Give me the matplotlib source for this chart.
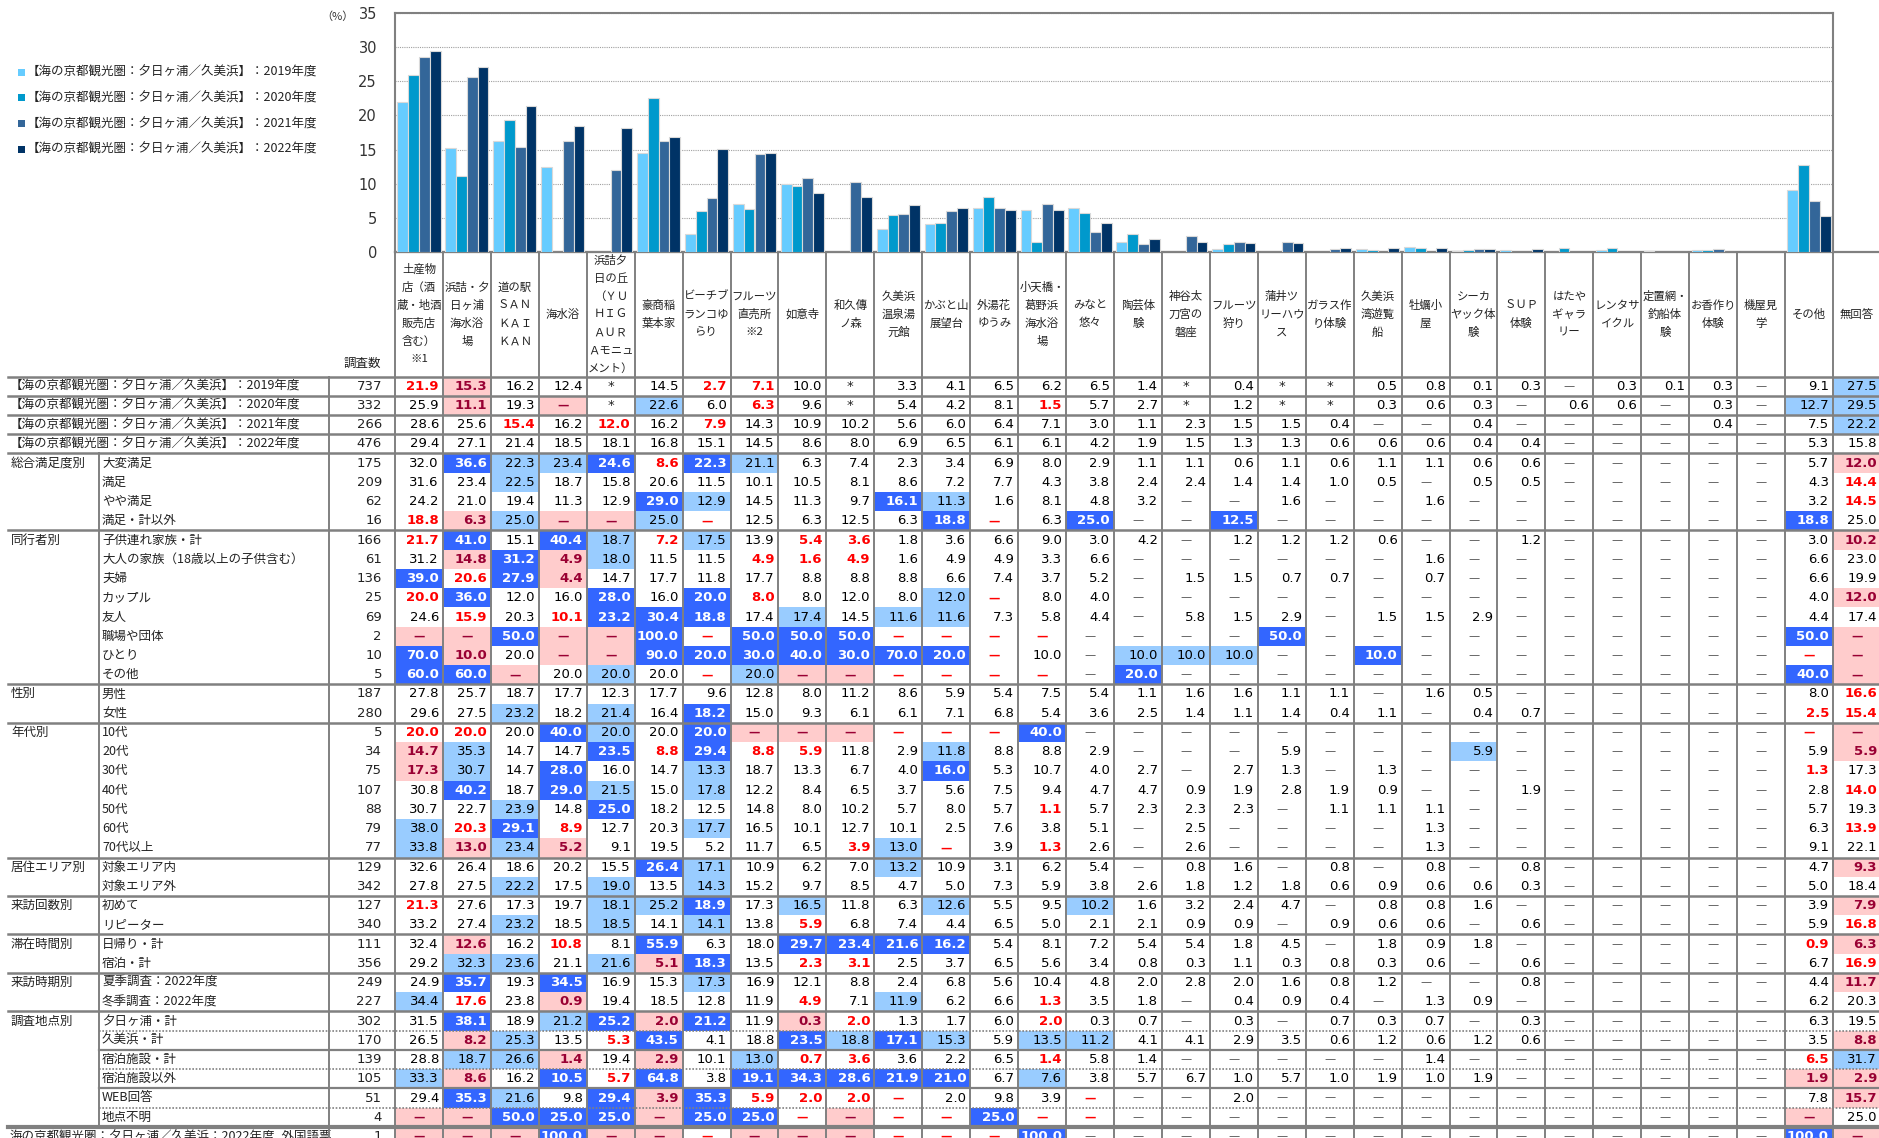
import matplotlib
matplotlib.use("Agg")
import matplotlib.pyplot as plt
from matplotlib.patches import Rectangle
import numpy as np

plt.rcParams["font.family"] = ["Noto Sans CJK JP", "DejaVu Sans"]

# ---- data ---------------------------------------------------------------
CATEGORIES = [
    "土産物\n店（酒\n蔵・地酒\n販売店\n含む）\n※1",
    "浜詰・夕\n日ヶ浦\n海水浴\n場",
    "道の駅\nＳＡＮ\nＫＡＩ\nＫＡＮ",
    "海水浴",
    "浜詰夕\n日の丘\n（ＹＵ\nＨＩＧ\nＡＵＲ\nＡモニュ\nメント）",
    "豪商稲\n葉本家",
    "ビーチブ\nランコゆ\nらり",
    "フルーツ\n直売所\n※2",
    "如意寺",
    "和久傳\nノ森",
    "久美浜\n温泉湯\n元館",
    "かぶと山\n展望台",
    "外湯花\nゆうみ",
    "小天橋・\n葛野浜\n海水浴\n場",
    "みなと\n悠々",
    "陶芸体\n験",
    "神谷太\n刀宮の\n磐座",
    "フルーツ\n狩り",
    "蒲井ツ\nリーハウ\nス",
    "ガラス作\nり体験",
    "久美浜\n湾遊覧\n船",
    "牡蠣小\n屋",
    "シーカ\nヤック体\n験",
    "ＳＵＰ\n体験",
    "はたや\nギャラ\nリー",
    "レンタサ\nイクル",
    "定置網・\n釣船体\n験",
    "お香作り\n体験",
    "機屋見\n学",
    "その他",
    "無回答",
]

SERIES = [
    "【海の京都観光圏：夕日ヶ浦／久美浜】：2019年度",
    "【海の京都観光圏：夕日ヶ浦／久美浜】：2020年度",
    "【海の京都観光圏：夕日ヶ浦／久美浜】：2021年度",
    "【海の京都観光圏：夕日ヶ浦／久美浜】：2022年度",
]

ROW_GROUP = ["", "", "", "",
             "総合満足度別", "", "", "",
             "同行者別", "", "", "", "", "", "", "",
             "性別", "",
             "年代別", "", "", "", "", "", "",
             "居住エリア別", "",
             "来訪回数別", "",
             "滞在時間別", "",
             "来訪時期別", "",
             "調査地点別", "", "", "", "", "",
             ""]

ROW_NAME = SERIES + [
    "大変満足", "満足", "やや満足", "満足・計以外",
    "子供連れ家族・計", "大人の家族（18歳以上の子供含む）", "夫婦", "カップル",
    "友人", "職場や団体", "ひとり", "その他",
    "男性", "女性",
    "10代", "20代", "30代", "40代", "50代", "60代", "70代以上",
    "対象エリア内", "対象エリア外",
    "初めて", "リピーター",
    "日帰り・計", "宿泊・計",
    "夏季調査：2022年度", "冬季調査：2022年度",
    "夕日ヶ浦・計", "久美浜・計", "宿泊施設・計", "宿泊施設以外", "WEB回答", "地点不明",
    "海の京都観光圏：夕日ヶ浦／久美浜：2022年度_外国語票",
]

ROW_N = [737, 332, 266, 476, 175, 209, 62, 16, 166, 61, 136, 25, 69, 2, 10, 5,
         187, 280, 5, 34, 75, 107, 88, 79, 77, 129, 342, 127, 340, 111, 356,
         249, 227, 302, 170, 139, 105, 51, 4, 1]

# "-" = none, "*" = not surveyed
VALUES = [
    "21.9 15.3 16.2 12.4 * 14.5 2.7 7.1 10.0 * 3.3 4.1 6.5 6.2 6.5 1.4 * 0.4 * * 0.5 0.8 0.1 0.3 - 0.3 0.1 0.3 - 9.1 27.5",
    "25.9 11.1 19.3 - * 22.6 6.0 6.3 9.6 * 5.4 4.2 8.1 1.5 5.7 2.7 * 1.2 * * 0.3 0.6 0.3 - 0.6 0.6 - 0.3 - 12.7 29.5",
    "28.6 25.6 15.4 16.2 12.0 16.2 7.9 14.3 10.9 10.2 5.6 6.0 6.4 7.1 3.0 1.1 2.3 1.5 1.5 0.4 - - 0.4 - - - - 0.4 - 7.5 22.2",
    "29.4 27.1 21.4 18.5 18.1 16.8 15.1 14.5 8.6 8.0 6.9 6.5 6.1 6.1 4.2 1.9 1.5 1.3 1.3 0.6 0.6 0.6 0.4 0.4 - - - - - 5.3 15.8",
    "32.0 36.6 22.3 23.4 24.6 8.6 22.3 21.1 6.3 7.4 2.3 3.4 6.9 8.0 2.9 1.1 1.1 0.6 1.1 0.6 1.1 1.1 0.6 0.6 - - - - - 5.7 12.0",
    "31.6 23.4 22.5 18.7 15.8 20.6 11.5 10.1 10.5 8.1 8.6 7.2 7.7 4.3 3.8 2.4 2.4 1.4 1.4 1.0 0.5 - 0.5 0.5 - - - - - 4.3 14.4",
    "24.2 21.0 19.4 11.3 12.9 29.0 12.9 14.5 11.3 9.7 16.1 11.3 1.6 8.1 4.8 3.2 - - 1.6 - - 1.6 - - - - - - - 3.2 14.5",
    "18.8 6.3 25.0 - - 25.0 - 12.5 6.3 12.5 6.3 18.8 - 6.3 25.0 - - 12.5 - - - - - - - - - - - 18.8 25.0",
    "21.7 41.0 15.1 40.4 18.7 7.2 17.5 13.9 5.4 3.6 1.8 3.6 6.6 9.0 3.0 4.2 - 1.2 1.2 1.2 0.6 - - 1.2 - - - - - 3.0 10.2",
    "31.2 14.8 31.2 4.9 18.0 11.5 11.5 4.9 1.6 4.9 1.6 4.9 4.9 3.3 6.6 - - - - - - 1.6 - - - - - - - 6.6 23.0",
    "39.0 20.6 27.9 4.4 14.7 17.7 11.8 17.7 8.8 8.8 8.8 6.6 7.4 3.7 5.2 - 1.5 1.5 0.7 0.7 - 0.7 - - - - - - - 6.6 19.9",
    "20.0 36.0 12.0 16.0 28.0 16.0 20.0 8.0 8.0 12.0 8.0 12.0 - 8.0 4.0 - - - - - - - - - - - - - - 4.0 12.0",
    "24.6 15.9 20.3 10.1 23.2 30.4 18.8 17.4 17.4 14.5 11.6 11.6 7.3 5.8 4.4 - 5.8 1.5 2.9 - 1.5 1.5 2.9 - - - - - - 4.4 17.4",
    "- - 50.0 - - 100.0 - 50.0 50.0 50.0 - - - - - - - - 50.0 - - - - - - - - - - 50.0 -",
    "70.0 10.0 20.0 - - 90.0 20.0 30.0 40.0 30.0 70.0 20.0 - 10.0 - 10.0 10.0 10.0 - - 10.0 - - - - - - - - - -",
    "60.0 60.0 - 20.0 20.0 20.0 - 20.0 - - - - - - - 20.0 - - - - - - - - - - - - - 40.0 -",
    "27.8 25.7 18.7 17.7 12.3 17.7 9.6 12.8 8.0 11.2 8.6 5.9 5.4 7.5 5.4 1.1 1.6 1.6 1.1 1.1 - 1.6 0.5 - - - - - - 8.0 16.6",
    "29.6 27.5 23.2 18.2 21.4 16.4 18.2 15.0 9.3 6.1 6.1 7.1 6.8 5.4 3.6 2.5 1.4 1.1 1.4 0.4 1.1 - 0.4 0.7 - - - - - 2.5 15.4",
    "20.0 20.0 20.0 40.0 20.0 20.0 20.0 - - - - - - 40.0 - - - - - - - - - - - - - - - - -",
    "14.7 35.3 14.7 14.7 23.5 8.8 29.4 8.8 5.9 11.8 2.9 11.8 8.8 8.8 2.9 - - - 5.9 - - - 5.9 - - - - - - 5.9 5.9",
    "17.3 30.7 14.7 28.0 16.0 14.7 13.3 18.7 13.3 6.7 4.0 16.0 5.3 10.7 4.0 2.7 - 2.7 1.3 - 1.3 - - - - - - - - 1.3 17.3",
    "30.8 40.2 18.7 29.0 21.5 15.0 17.8 12.2 8.4 6.5 3.7 5.6 7.5 9.4 4.7 4.7 0.9 1.9 2.8 1.9 0.9 - - 1.9 - - - - - 2.8 14.0",
    "30.7 22.7 23.9 14.8 25.0 18.2 12.5 14.8 8.0 10.2 5.7 8.0 5.7 1.1 5.7 2.3 2.3 2.3 - 1.1 1.1 1.1 - - - - - - - 5.7 19.3",
    "38.0 20.3 29.1 8.9 12.7 20.3 17.7 16.5 10.1 12.7 10.1 2.5 7.6 3.8 5.1 - 2.5 - - - - 1.3 - - - - - - - 6.3 13.9",
    "33.8 13.0 23.4 5.2 9.1 19.5 5.2 11.7 6.5 3.9 13.0 - 3.9 1.3 2.6 - 2.6 - - - - 1.3 - - - - - - - 9.1 22.1",
    "32.6 26.4 18.6 20.2 15.5 26.4 17.1 10.9 6.2 7.0 13.2 10.9 3.1 6.2 5.4 - 0.8 1.6 - 0.8 - 0.8 - 0.8 - - - - - 4.7 9.3",
    "27.8 27.5 22.2 17.5 19.0 13.5 14.3 15.2 9.7 8.5 4.7 5.0 7.3 5.9 3.8 2.6 1.8 1.2 1.8 0.6 0.9 0.6 0.6 0.3 - - - - - 5.0 18.4",
    "21.3 27.6 17.3 19.7 18.1 25.2 18.9 17.3 16.5 11.8 6.3 12.6 5.5 9.5 10.2 1.6 3.2 2.4 4.7 - 0.8 0.8 1.6 - - - - - - 3.9 7.9",
    "33.2 27.4 23.2 18.5 18.5 14.1 14.1 13.8 5.9 6.8 7.4 4.4 6.5 5.0 2.1 2.1 0.9 0.9 - 0.9 0.6 0.6 - 0.6 - - - - - 5.9 16.8",
    "32.4 12.6 16.2 10.8 8.1 55.9 6.3 18.0 29.7 23.4 21.6 16.2 5.4 8.1 7.2 5.4 5.4 1.8 4.5 - 1.8 0.9 1.8 - - - - - - 0.9 6.3",
    "29.2 32.3 23.6 21.1 21.6 5.1 18.3 13.5 2.3 3.1 2.5 3.7 6.5 5.6 3.4 0.8 0.3 1.1 0.3 0.8 0.3 0.6 - 0.6 - - - - - 6.7 16.9",
    "24.9 35.7 19.3 34.5 16.9 15.3 17.3 16.9 12.1 8.8 2.4 6.8 5.6 10.4 4.8 2.0 2.8 2.0 1.6 0.8 1.2 - - 0.8 - - - - - 4.4 11.7",
    "34.4 17.6 23.8 0.9 19.4 18.5 12.8 11.9 4.9 7.1 11.9 6.2 6.6 1.3 3.5 1.8 - 0.4 0.9 0.4 - 1.3 0.9 - - - - - - 6.2 20.3",
    "31.5 38.1 18.9 21.2 25.2 2.0 21.2 11.9 0.3 2.0 1.3 1.7 6.0 2.0 0.3 0.7 - 0.3 - 0.7 0.3 0.7 - 0.3 - - - - - 6.3 19.5",
    "26.5 8.2 25.3 13.5 5.3 43.5 4.1 18.8 23.5 18.8 17.1 15.3 5.9 13.5 11.2 4.1 4.1 2.9 3.5 0.6 1.2 0.6 1.2 0.6 - - - - - 3.5 8.8",
    "28.8 18.7 26.6 1.4 19.4 2.9 10.1 13.0 0.7 3.6 3.6 2.2 6.5 1.4 5.8 1.4 - - - - - 1.4 - - - - - - - 6.5 31.7",
    "33.3 8.6 16.2 10.5 5.7 64.8 3.8 19.1 34.3 28.6 21.9 21.0 6.7 7.6 3.8 5.7 6.7 1.0 5.7 1.0 1.9 1.0 1.9 - - - - - - 1.9 2.9",
    "29.4 35.3 21.6 9.8 29.4 3.9 35.3 5.9 2.0 2.0 - 2.0 9.8 3.9 - - - 2.0 - - - - - - - - - - - 7.8 15.7",
    "- - 50.0 25.0 25.0 - 25.0 25.0 - - - - 25.0 - - - - - - - - - - - - - - - - - 25.0",
    "- - - 100.0 - - - - - - - - - 100.0 - - - - - - - - - - - - - - - 100.0 -",
]

# significance vs. the total: H much higher, h higher, L much lower, l lower
FLAGS = [
    "lL... .ll.. ..... ..... ..... ..... h",
    ".L.L. h.l.. ...l. ..... ..... ....h h",
    "..l.l .l... ..... ..... ..... ..... h",
    "..... ..... ..... ..... ..... ..... .",
    ".HhhH lHh.. ..... ..... ..... ..... L",
    "..h.. ..... ..... ..... ..... ..... l",
    "..... Hh... Hh... ..... ..... ..... l",
    "lLhLL hl... .Hl.H ..H.. ..... ....H .",
    "lH.Hh lh.ll ..... ..... ..... ..... L",
    ".LHLh ..lll ..... ..... ..... ..... .",
    "HlHL. ..... ..... ..... ..... ..... .",
    "lH..H .Hl.. .hl.. ..... ..... ..... L",
    ".l.lH HH.h. hh... ..... ..... ..... .",
    "LLHLL HlHHH llll. ...H. ..... ....H L",
    "HL.LL HHHHH HHl.. hhh.. H.... ....l L",
    "HHL.h .lhLL llll. H.... ..... ....H L",
    "..... ..... ..... ..... ..... ..... l",
    "..h.h .H... ..... ..... ..... ....l l",
    "ll.Hh .HLLL lllH. ..... ..... ....l L",
    "Lh..H lHll. .h... ..... ..h.. ..... L",
    "Lh.H. .h... .H... ..... ..... ....l .",
    ".H.Hh .h... ..... ..... ..... ..... l",
    "..h.H ..... ...l. ..... ..... ..... .",
    "hlHl. .h... ..... ..... ..... ..... l",
    "hLhL. ....l hl.l. ..... ..... ..... .",
    "..... Hh... h.... ..... ..... ..... L",
    "..h.h .h... ..... ..... ..... ..... .",
    "l...h hH.h. .h..h ..... ..... ..... L",
    "..h.h .h.l. ..... ..... ..... ..... l",
    ".L.l. H..HH HH... ..... ..... ....l L",
    ".hh.h LH.ll ..... ..... ..... ..... l",
    ".H.H. .h... ..... ..... ..... ..... L",
    "hl.L. ...l. h..l. ..... ..... ..... .",
    ".H.hH LH.Ll ...l. ..... ..... ..... .",
    ".Lh.l H..Hh Hh.hh ..... ..... ..... L",
    ".hhL. L.hll ...l. ..... ..... ....l h",
    "hL.Hl H.HHH HH.h. ..... ..... ....L L",
    ".Hh.H LHlll l...l ..... ..... ..... L",
    "LLHHH LHHlL llHll ..... ..... ....L .",
    "LLLHL LlLLL lllH. ..... ..... ....H L",
]

SERIES_COLORS = ["#66CCFF", "#0099CC", "#336699", "#003366"]


def to_num(tok):
    return 0.0 if tok in ("-", "*") else float(tok)


# ---- layout (pixels) ------------------------------------------------------
W, H = 1879, 1138
PLOT_L, PLOT_R, PLOT_T, PLOT_B = 395, 1833, 13, 252
N_BAR = 30
COL_W = (PLOT_R - PLOT_L) / N_BAR
ROW0, RH = 376.5, 19.24
LAB_X, SUB_X, N_L = 8, 99, 329
GRID = "#808080"

fig = plt.figure(figsize=(W / 100, H / 100), dpi=100)

tab = fig.add_axes([0, 0, 1, 1])
tab.set_xlim(0, W)
tab.set_ylim(H, 0)
tab.axis("off")


def col_left(c):
    return PLOT_L + c * COL_W


def row_top(r):
    return ROW0 + r * RH


# ---- bar chart --------------------------------------------------------------
ax = fig.add_axes([PLOT_L / W, 1 - PLOT_B / H, (PLOT_R - PLOT_L) / W, (PLOT_B - PLOT_T) / H])
x = np.arange(N_BAR)
bw = 0.225
for k in range(4):
    ys = [to_num(t) for t in VALUES[k].split()][:N_BAR]
    ax.bar(x + (k - 1.5) * bw, ys, bw, color=SERIES_COLORS[k],
           edgecolor="#D9D9D9", linewidth=0.8, zorder=3)
ax.set_xlim(-0.5, N_BAR - 0.5)
ax.set_ylim(0, 35)
ax.set_yticks(range(0, 36, 5))
ax.set_xticks([])
ax.tick_params(axis="y", length=0, pad=13, labelsize=10.5, labelcolor="#333333")
for lab in ax.get_yticklabels():
    lab.set_family("DejaVu Sans")
ax.grid(axis="y", linestyle=(0, (1, 1)), color="#A0A0A0", linewidth=0.8, zorder=0)
for side in ("left", "top", "right", "bottom"):
    ax.spines[side].set_color(GRID)
    ax.spines[side].set_linewidth(1.5)
ax.set_facecolor("none")
tab.text(337, 17, "（%）", ha="center", va="center", fontsize=8, color="#333333")

# legend
for k, (lab, colr) in enumerate(zip(SERIES, SERIES_COLORS)):
    yc = 72 + k * 25.8
    tab.add_patch(Rectangle((18, yc - 3.5), 7, 7, facecolor=colr, edgecolor="none"))
    tab.text(27, yc, lab, va="center", ha="left", fontsize=9, color="#222222")

# ---- header row -------------------------------------------------------------
hc = (PLOT_B + ROW0) / 2
for c, name in enumerate(CATEGORIES):
    lines = name.split("\n")
    cx = col_left(c) + COL_W / 2
    for i, ln in enumerate(lines):
        yy = hc + (i - (len(lines) - 1) / 2) * 18
        tab.text(cx, yy, ln, ha="center", va="center", fontsize=8.2, color="#222222")
tab.text((N_L + PLOT_L) / 2, 363, "調査数", ha="center", va="center", fontsize=9, color="#222222")

# ---- table cells ------------------------------------------------------------
FLAG_STYLE = {
    "H": ("#3366FF", "white", "bold"),
    "h": ("#99CCFF", "black", "normal"),
    "L": ("#FFCCCC", "#990033", "bold"),
    "l": (None, "#FF0000", "bold"),
    ".": (None, "black", "normal"),
}

n_rows = len(VALUES)
for r in range(n_rows):
    top = row_top(r)
    yc = top + RH / 2
    toks = VALUES[r].split()
    flags = FLAGS[r].replace(" ", "")
    span = r < 4 or r == n_rows - 1
    if span:
        tab.text(LAB_X + 2, yc, ROW_NAME[r], ha="left", va="center", fontsize=9, color="#222222")
    else:
        if ROW_GROUP[r]:
            tab.text(LAB_X + 3, yc, ROW_GROUP[r], ha="left", va="center", fontsize=9, color="#222222")
        tab.text(SUB_X + 3, yc, ROW_NAME[r], ha="left", va="center", fontsize=9, color="#222222")
    tab.text(PLOT_L - 13, yc, str(ROW_N[r]), ha="right", va="center", fontsize=9.5,
             family="DejaVu Sans", color="#222222")
    for c, (tok, fl) in enumerate(zip(toks, flags)):
        bg, fg, wt = FLAG_STYLE[fl]
        x0 = col_left(c)
        if bg:
            tab.add_patch(Rectangle((x0, top), COL_W, RH, facecolor=bg, edgecolor="none"))
        if tok == "-":
            dash_col = fg if fl != "." else "#666666"
            tab.text(x0 + COL_W / 2, yc, "—", ha="center", va="center", fontsize=9,
                     color=dash_col, fontweight=wt)
        elif tok == "*":
            tab.text(x0 + COL_W / 2, yc, "*", ha="center", va="center", fontsize=9.5,
                     family="DejaVu Sans", color="#222222")
        else:
            tab.text(x0 + COL_W - 4, yc, tok, ha="right", va="center", fontsize=9.5,
                     family="DejaVu Sans", color=fg, fontweight=wt)

# ---- rules --------------------------------------------------------------------
for c in range(N_BAR + 2):
    tab.plot([col_left(c)] * 2, [PLOT_B, H], color=GRID, lw=1.4, zorder=5)
tab.plot([N_L, N_L], [ROW0, H], color=GRID, lw=1.4, zorder=5)
tab.plot([SUB_X, SUB_X], [row_top(4), row_top(n_rows - 1)], color=GRID, lw=1.4, zorder=5)
tab.plot([PLOT_L, W], [PLOT_B, PLOT_B], color=GRID, lw=1.6, zorder=5)

GROUP_BREAKS = [0, 1, 2, 3, 4, 8, 16, 18, 25, 27, 29, 31, 33]
for r in GROUP_BREAKS:
    tab.plot([LAB_X, W], [row_top(r)] * 2, color=GRID, lw=1.8, zorder=6)
tab.plot([LAB_X, W], [row_top(n_rows - 1)] * 2, color=GRID, lw=3, zorder=6)
for r in (35, 37):
    tab.plot([SUB_X, W], [row_top(r)] * 2, color=GRID, lw=1.6, zorder=6)
for r in (34, 36, 38):
    tab.plot([SUB_X, W], [row_top(r)] * 2, color=GRID, lw=1.2, ls=(0, (1, 1)), zorder=6)

fig.savefig("out.png", dpi=100)
